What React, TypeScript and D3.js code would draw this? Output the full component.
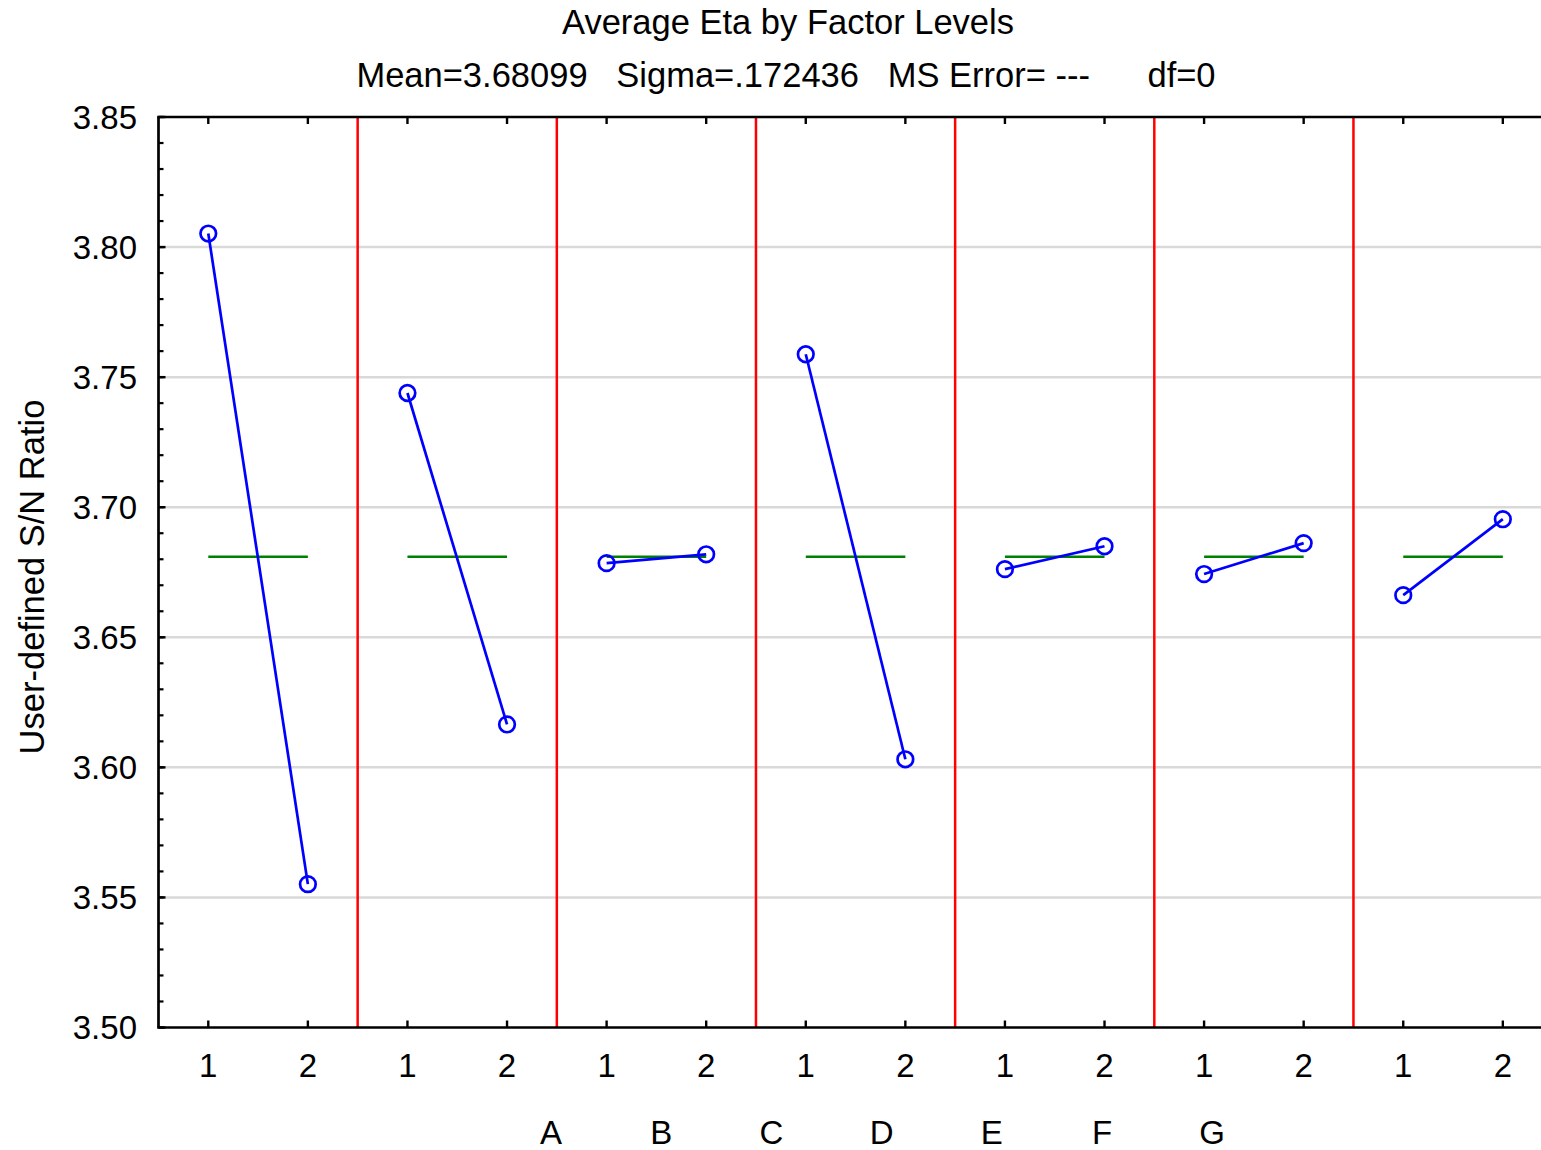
import React from 'react';
import * as d3 from 'd3';

const factors = ['A', 'B', 'C', 'D', 'E', 'F', 'G'];
const levels = ['1', '2'];
const level1 = [3.8052, 3.7439, 3.6785, 3.7588, 3.6762, 3.6743, 3.6662];
const level2 = [3.5551, 3.6165, 3.6819, 3.6031, 3.685, 3.6862, 3.6954];
const grandMean = 3.68099;
const yTicks = [3.5, 3.55, 3.6, 3.65, 3.7, 3.75, 3.8, 3.85];
const title = 'Average Eta by Factor Levels';
const subtitle = 'Mean=3.68099   Sigma=.172436   MS Error= ---      df=0';
const yTitle = 'User-defined S/N Ratio';

const W = 1541;
const H = 1150;
const FONT = '"Liberation Sans", Arial, sans-serif';

export default function App() {
  const left = 158.5;
  const top = 117;
  const bottom = 1027.5;
  const unit = 99.58;
  const x = d3.scaleLinear().domain([0, 14]).range([left, left + 14 * unit]);
  const y = d3.scaleLinear().domain([3.5, 3.85]).range([bottom, top]);
  const minor = d3.range(350, 386).map((v) => v / 100);
  const line = d3.line<[number, number]>().x((d) => d[0]).y((d) => d[1]);
  const fmt = d3.format('.2f');

  return (
    <svg
      width={W}
      height={H}
      style={{ position: 'absolute', left: 0, top: 0, background: '#fff' }}
      fontFamily={FONT}
    >
      <rect x={0} y={0} width={W} height={H} fill="#fff" />
      {/* gridlines */}
      {yTicks.filter((t) => t > 3.5 && t < 3.85).map((t) => (
        <line key={t} x1={left} x2={W} y1={y(t)} y2={y(t)} stroke="#d9d9d9" strokeWidth={2.5} />
      ))}
      {/* separators */}
      {factors.slice(1).map((f, i) => (
        <line key={f} x1={x(2 * (i + 1))} x2={x(2 * (i + 1))} y1={top} y2={bottom} stroke="#ff0000" strokeWidth={2.5} />
      ))}
      {/* mean lines */}
      {factors.map((f, i) => (
        <line key={f} x1={x(2 * i + 0.5)} x2={x(2 * i + 1.5)} y1={y(grandMean)} y2={y(grandMean)} stroke="#008000" strokeWidth={2.5} />
      ))}
      {/* data lines */}
      {factors.map((f, i) => (
        <path
          key={f}
          d={line([
            [x(2 * i + 0.5), y(level1[i])],
            [x(2 * i + 1.5), y(level2[i])],
          ]) as string}
          stroke="#0000ff"
          strokeWidth={2.7}
          fill="none"
        />
      ))}
      {factors.map((f, i) => (
        <g key={f}>
          <circle cx={x(2 * i + 0.5)} cy={y(level1[i])} r={7.8} fill="none" stroke="#0000ff" strokeWidth={2.7} />
          <circle cx={x(2 * i + 1.5)} cy={y(level2[i])} r={7.8} fill="none" stroke="#0000ff" strokeWidth={2.7} />
        </g>
      ))}
      {/* axes frame */}
      <line x1={left} x2={left} y1={top} y2={bottom} stroke="#000" strokeWidth={2.7} />
      <line x1={left - 1.3} x2={W} y1={top} y2={top} stroke="#000" strokeWidth={2.7} />
      <line x1={left - 1.3} x2={W} y1={bottom} y2={bottom} stroke="#000" strokeWidth={2.7} />
      {/* y minor ticks */}
      {minor.map((t) => (
        <line key={t} x1={left} x2={left + 5} y1={y(t)} y2={y(t)} stroke="#000" strokeWidth={2.2} />
      ))}
      {yTicks.map((t) => (
        <line key={'M' + t} x1={left} x2={left + 7} y1={y(t)} y2={y(t)} stroke="#000" strokeWidth={2.4} />
      ))}
      {yTicks.map((t) => (
        <text key={'L' + t} x={137} y={y(t)} dy="0.36em" textAnchor="end" fontSize={33} fill="#000">
          {fmt(t)}
        </text>
      ))}
      {/* x ticks and labels */}
      {factors.map((f, i) =>
        levels.map((lv, j) => {
          const xx = x(2 * i + 0.5 + j);
          return (
            <g key={f + lv}>
              <line x1={xx} x2={xx} y1={top} y2={top + 7} stroke="#000" strokeWidth={2.4} />
              <line x1={xx} x2={xx} y1={bottom} y2={bottom - 7} stroke="#000" strokeWidth={2.4} />
              <text x={xx} y={1077} textAnchor="middle" fontSize={33} fill="#000">
                {lv}
              </text>
            </g>
          );
        })
      )}
      {factors.map((f, i) => (
        <text key={'F' + f} x={551 + i * 110.2} y={1144} textAnchor="middle" fontSize={33} fill="#000">
          {f}
        </text>
      ))}
      {/* titles */}
      <text x={788} y={34} textAnchor="middle" fontSize={34.5} fill="#000">
        {title}
      </text>
      <text x={786} y={87} textAnchor="middle" fontSize={34.5} fill="#000" style={{ whiteSpace: 'pre' }}>
        {subtitle}
      </text>
      <text
        transform={`translate(44, 577) rotate(-90)`}
        textAnchor="middle"
        fontSize={34.5}
        fill="#000"
      >
        {yTitle}
      </text>
    </svg>
  );
}
